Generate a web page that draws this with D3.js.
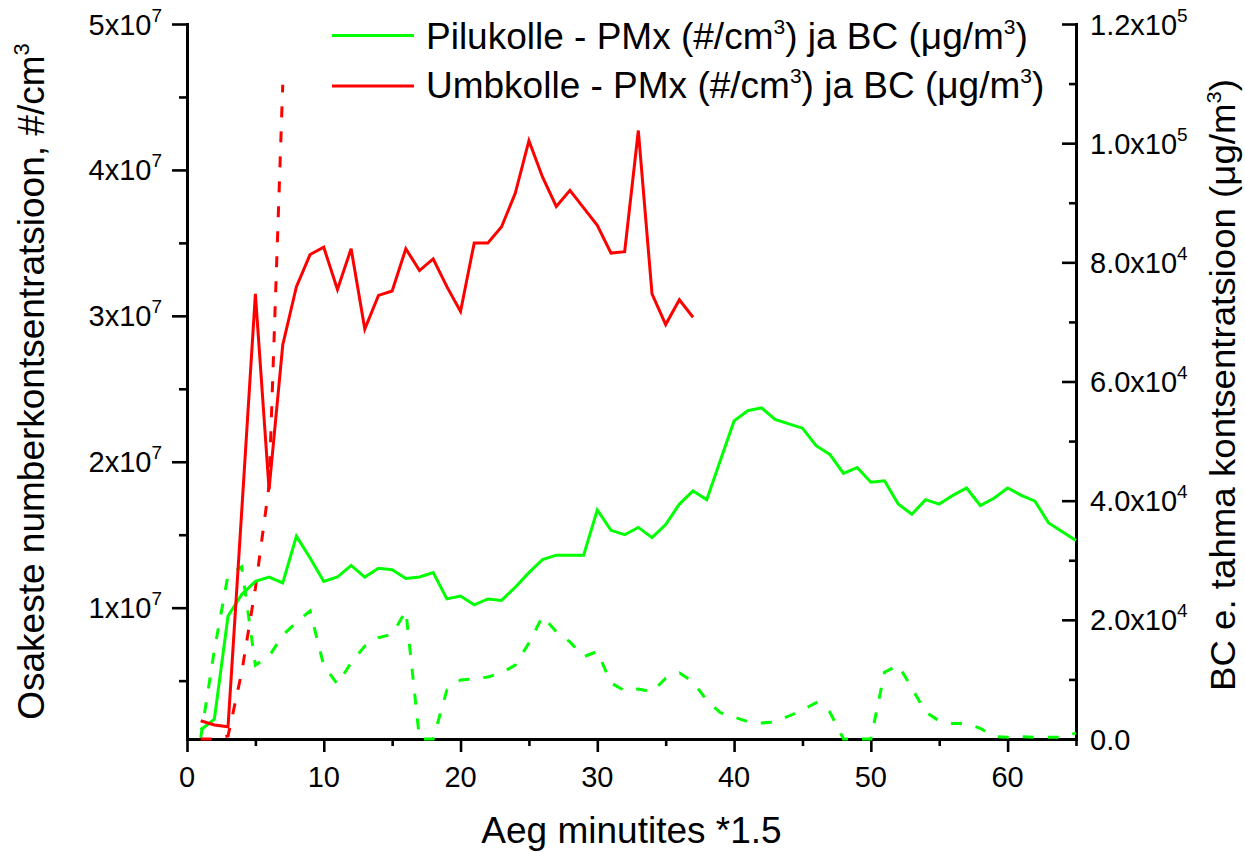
<!DOCTYPE html>
<html>
<head>
<meta charset="utf-8">
<script src="https://cdn.jsdelivr.net/npm/d3@7"></script>
<style>
  html, body { margin: 0; padding: 0; background: #fff; }
  svg { display: block; font-family: "Liberation Sans", Arial, sans-serif; }
</style>
</head>
<body>
<svg id="chart" width="1245" height="852"></svg>
<script>
// ---- data ----
const xGreen = d3.range(1, 66);
const xRedPM = d3.range(1, 38);
const xRedBC = [1, 2, 3, 4, 5, 6, 7];

const pilukollePM = [1.62e6, 2.35e6, 9.43e6, 10.9e6, 11.8e6, 12.1e6, 11.7e6, 14.9e6, 13.4e6, 11.8e6,
  12.1e6, 12.9e6, 12.1e6, 12.7e6, 12.6e6, 12.0e6, 12.1e6, 12.4e6, 10.6e6, 10.8e6,
  10.2e6, 10.6e6, 10.5e6, 11.4e6, 12.4e6, 13.3e6, 13.6e6, 13.6e6, 13.6e6, 16.7e6,
  15.3e6, 15.0e6, 15.5e6, 14.8e6, 15.7e6, 17.1e6, 18.0e6, 17.4e6, 20.1e6, 22.8e6,
  23.5e6, 23.7e6, 22.9e6, 22.6e6, 22.3e6, 21.1e6, 20.5e6, 19.2e6, 19.6e6, 18.6e6,
  18.7e6, 17.1e6, 16.4e6, 17.4e6, 17.1e6, 17.7e6, 18.2e6, 17.0e6, 17.5e6, 18.2e6,
  17.7e6, 17.3e6, 15.8e6, 15.2e6, 14.6e6];

const pilukolleBC = [200, 14900, 27500, 28900, 12400, 13900, 17400, 19600, 21500, 12300,
  9200, 12800, 15600, 17000, 17600, 21500, 0, 0, 8200, 9900,
  10100, 10400, 11100, 12400, 16100, 20600, 18000, 16300, 13800, 14700,
  9400, 8100, 8400, 7900, 10200, 11100, 9600, 6500, 4400, 3700,
  2900, 2700, 2850, 3860, 4870, 6090, 4530, 0, 0, 0,
  11200, 12400, 8560, 4530, 3020, 2600, 2600, 1800, 400, 300,
  400, 300, 300, 300, 1000];

const umbkollePM = [2.25e6, 1.96e6, 1.84e6, 16.6e6, 31.5e6, 18.1e6, 28.0e6, 32.0e6, 34.2e6, 34.7e6,
  31.8e6, 34.6e6, 29.1e6, 31.4e6, 31.7e6, 34.6e6, 33.1e6, 33.9e6, 32.0e6, 30.3e6,
  35.0e6, 35.0e6, 36.1e6, 38.4e6, 42.0e6, 39.5e6, 37.5e6, 38.6e6, 37.4e6, 36.2e6,
  34.3e6, 34.4e6, 42.7e6, 31.5e6, 29.4e6, 31.1e6, 29.9e6];

const umbkolleBC = [0, 0, 500, 11200, 25300, 42500, 109800];

const xTicks = [0, 10, 20, 30, 40, 50, 60];
const xMinor = [5, 15, 25, 35, 45, 55, 65];
const leftTicks = [1e7, 2e7, 3e7, 4e7, 5e7];
const leftMant = ["1x10", "2x10", "3x10", "4x10", "5x10"];
const leftExp = ["7", "7", "7", "7", "7"];
const leftMinor = [5e6, 1.5e7, 2.5e7, 3.5e7, 4.5e7];
const rightTicks = [0, 2e4, 4e4, 6e4, 8e4, 1e5, 1.2e5];
const rightMant = ["0.0", "2.0x10", "4.0x10", "6.0x10", "8.0x10", "1.0x10", "1.2x10"];
const rightExp = ["", "4", "4", "4", "4", "5", "5"];
const rightMinor = [1e4, 3e4, 5e4, 7e4, 9e4, 1.1e5];

const legendNames = ["Pilukolle", "Umbkolle"];
const colors = ["#00ff00", "#ff0000"];

// ---- layout ----
const L = 187, R = 1076, T = 24, B = 739;
const svg = d3.select("#chart");
const x = d3.scaleLinear().domain([0, 65]).range([L, R]);
const yL = d3.scaleLinear().domain([1e6, 5e7]).range([B, T]);
const yR = d3.scaleLinear().domain([0, 1.2e5]).range([B, T]);

function styleAxis(g) {
  g.selectAll("path.domain").attr("stroke", "#000").attr("stroke-width", 3).attr("stroke-linecap", "square");
  g.selectAll(".tick line").attr("stroke", "#000").attr("stroke-width", 2.6);
  g.selectAll("text").remove();
}

// x axis
svg.append("g").attr("transform", `translate(0,${B})`)
  .call(d3.axisBottom(x).tickValues(xMinor).tickSize(7).tickSizeOuter(0)).call(styleAxis);
svg.append("g").attr("transform", `translate(0,${B})`)
  .call(d3.axisBottom(x).tickValues(xTicks).tickSize(13).tickSizeOuter(0)).call(styleAxis);
svg.append("g").selectAll("text").data(xTicks).join("text")
  .attr("x", d => x(d)).attr("y", 787).attr("text-anchor", "middle")
  .attr("font-size", 29).text(d => d);

// left axis
svg.append("g").attr("transform", `translate(${L},0)`)
  .call(d3.axisLeft(yL).tickValues(leftMinor).tickSize(8).tickSizeOuter(0)).call(styleAxis);
svg.append("g").attr("transform", `translate(${L},0)`)
  .call(d3.axisLeft(yL).tickValues(leftTicks).tickSize(15).tickSizeOuter(0)).call(styleAxis);
const lt = svg.append("g").selectAll("text").data(leftTicks).join("text")
  .attr("x", 162).attr("y", d => yL(d) + 10.5).attr("text-anchor", "end").attr("font-size", 29);
lt.append("tspan").text((d, i) => leftMant[i]);
lt.append("tspan").attr("font-size", 19).attr("dy", -13).text((d, i) => leftExp[i]);

// right axis (ticks pointing inward)
svg.append("g").attr("transform", `translate(${R},0)`)
  .call(d3.axisLeft(yR).tickValues(rightMinor).tickSize(7).tickSizeOuter(0)).call(styleAxis);
svg.append("g").attr("transform", `translate(${R},0)`)
  .call(d3.axisLeft(yR).tickValues(rightTicks).tickSize(14).tickSizeOuter(0)).call(styleAxis);
const rt = svg.append("g").selectAll("text").data(rightTicks).join("text")
  .attr("x", 1090).attr("y", d => yR(d) + 10.5).attr("text-anchor", "start").attr("font-size", 29);
rt.append("tspan").text((d, i) => rightMant[i]);
rt.append("tspan").attr("font-size", 19).attr("dy", -13).text((d, i) => rightExp[i]);

// axis titles
svg.append("text").attr("x", (L + R) / 2).attr("y", 843).attr("text-anchor", "middle")
  .attr("font-size", 37).text("Aeg minutites *1.5");

const lt2 = svg.append("text").attr("transform", `translate(44,${(T + B) / 2}) rotate(-90)`)
  .attr("text-anchor", "middle").attr("font-size", 37);
lt2.append("tspan").text("Osakeste numberkontsentratsioon, #/cm");
lt2.append("tspan").attr("font-size", 22).attr("dy", -15).text("3");

const rt2 = svg.append("text").attr("transform", `translate(1235,385) rotate(-90)`)
  .attr("text-anchor", "middle").attr("font-size", 35)
  .attr("textLength", 612).attr("lengthAdjust", "spacingAndGlyphs");
rt2.append("tspan").text("BC e. tahma kontsentratsioon (μg/m");
rt2.append("tspan").attr("font-size", 21).attr("dy", -14).text("3");
rt2.append("tspan").attr("dy", 14).text(")");

// lines
const lineL = d3.line().x(d => x(d[0])).y(d => yL(d[1]));
const lineR = d3.line().x(d => x(d[0])).y(d => yR(d[1]));
const dash = "11,14";

svg.append("path").datum(xGreen.map((v, i) => [v, pilukolleBC[i]]))
  .attr("d", lineR).attr("fill", "none").attr("stroke", colors[0]).attr("stroke-width", 3)
  .attr("stroke-dasharray", dash);
svg.append("path").datum(xRedBC.map((v, i) => [v, umbkolleBC[i]]))
  .attr("d", lineR).attr("fill", "none").attr("stroke", colors[1]).attr("stroke-width", 3)
  .attr("stroke-dasharray", dash);
svg.append("path").datum(xGreen.map((v, i) => [v, pilukollePM[i]]))
  .attr("d", lineL).attr("fill", "none").attr("stroke", colors[0]).attr("stroke-width", 3);
svg.append("path").datum(xRedPM.map((v, i) => [v, umbkollePM[i]]))
  .attr("d", lineL).attr("fill", "none").attr("stroke", colors[1]).attr("stroke-width", 3);

// legend
const legY = [35.5, 86];
const legBase = [49, 98];
legendNames.forEach((name, i) => {
  svg.append("line").attr("x1", 332).attr("x2", 414).attr("y1", legY[i]).attr("y2", legY[i])
    .attr("stroke", colors[i]).attr("stroke-width", 3);
  const t = svg.append("text").attr("x", 426).attr("y", legBase[i]).attr("font-size", 37);
  t.append("tspan").text(name + " - PMx (#/cm");
  t.append("tspan").attr("font-size", 21).attr("dy", -15).text("3");
  t.append("tspan").attr("dy", 15).text(") ja BC (μg/m");
  t.append("tspan").attr("font-size", 21).attr("dy", -15).text("3");
  t.append("tspan").attr("dy", 15).text(")");
});
</script>
</body>
</html>
